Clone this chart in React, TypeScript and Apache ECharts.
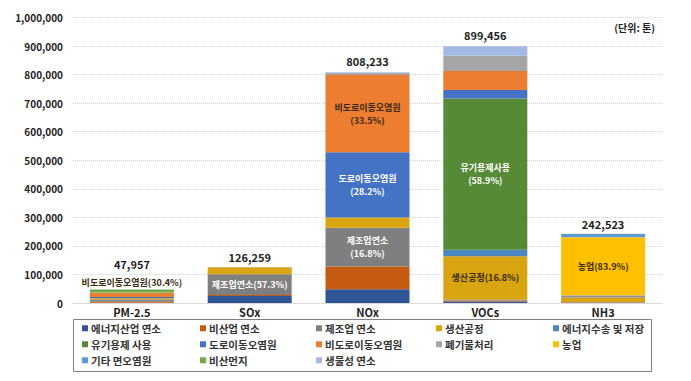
import React, { useEffect, useRef } from "react";
import * as echarts from "echarts";

const categories = ["PM-2.5", "SOx", "NOx", "VOCs", "NH3"];
const totals = [47957, 126259, 808233, 899456, 242523];

const sourceNames = [
  "에너지산업 연소",
  "비산업 연소",
  "제조업 연소",
  "생산공정",
  "에너지수송 및 저장",
  "유기용제 사용",
  "도로이동오염원",
  "비도로이동오염원",
  "폐기물처리",
  "농업",
  "기타 면오염원",
  "비산먼지",
  "생물성 연소",
];

const energyIndustry = [1200, 24500, 48000, 5000, 1000];
const nonIndustrial = [2800, 3800, 80000, 4000, 1800];
const manufacturing = [8200, 72346, 135783, 3500, 700];
const production = [4500, 23500, 35270, 151109, 17000];
const energyTransport = [0, 0, 1000, 23000, 0];
const solvent = [0, 0, 0, 529780, 0];
const roadMobile = [4400, 200, 227922, 30000, 3500];
const nonRoadMobile = [14580, 1100, 270758, 66000, 200];
const waste = [300, 500, 7500, 54000, 2800];
const agriculture = [0, 0, 0, 0, 203477];
const otherArea = [500, 0, 0, 0, 11500];
const fugitiveDust = [10500, 0, 0, 0, 0];
const biomass = [977, 313, 2000, 33067, 546];

const seriesValues = [
  energyIndustry, nonIndustrial, manufacturing, production, energyTransport,
  solvent, roadMobile, nonRoadMobile, waste, agriculture, otherArea, fugitiveDust, biomass,
];

const colors = [
  "#2F5597", "#C55A11", "#7F7F7F", "#D8A40F", "#4A86BF", "#568A36", "#4472C4",
  "#ED7D31", "#A5A5A5", "#FFC000", "#5B9BD5", "#70AD47", "#A3B8E2",
];

// inner labels: [seriesIndex, categoryIndex, text, dark?, position]
const innerLabels: [number, number, string, boolean, string][] = [
  [7, 0, "비도로이동오염원(30.4%)", true, "top"],
  [2, 1, "제조업연소(57.3%)", false, "inside"],
  [7, 2, "비도로이동오염원\n(33.5%)", true, "inside"],
  [6, 2, "도로이동오염원\n(28.2%)", false, "inside"],
  [2, 2, "제조업연소\n(16.8%)", false, "inside"],
  [5, 3, "유기용제사용\n(58.9%)", false, "inside"],
  [3, 3, "생산공정(16.8%)", true, "inside"],
  [9, 4, "농업(83.9%)", true, "inside"],
];

const totalDistances = [20, 4, 6, 6, 4];

const legendCols = [82, 200, 316, 436, 553];
const legendRows = [323, 339, 355];

const FONT = "'Noto Sans CJK KR', 'Noto Sans', sans-serif";

export default function App() {
  const ref = useRef<HTMLDivElement>(null);
  useEffect(() => {
    if (!ref.current) return;
    const chart = echarts.init(ref.current, null, { renderer: "svg" });
    const series: any[] = seriesValues.map((vals, si) => ({
      name: sourceNames[si],
      type: "bar",
      stack: "total",
      barWidth: 84,
      itemStyle: { color: colors[si] },
      data: vals.map((v, ci) => {
        const item: any = { value: v };
        const lab = innerLabels.find((l) => l[0] === si && l[1] === ci);
        if (lab) {
          item.label = {
            show: true,
            position: lab[4],
            distance: 4,
            formatter: lab[2],
            color: lab[3] ? "#3a2a10" : "#ffffff",
            fontSize: 9,
            fontWeight: "bold",
            fontFamily: FONT,
            lineHeight: 13,
          };
        }
        if (si === seriesValues.length - 1) {
          item.label = {
            show: true,
            position: "top",
            distance: totalDistances[ci],
            formatter: totals[ci].toLocaleString("en-US"),
            color: "#222",
            fontSize: 11,
            fontWeight: "bold",
            fontFamily: FONT,
          };
        }
        return item;
      }),
    }));

    const legends = sourceNames.map((name, i) => ({
      data: [name],
      left: legendCols[i % 5],
      top: legendRows[Math.floor(i / 5)],
      orient: "horizontal",
      icon: "rect",
      itemWidth: 6,
      itemHeight: 6,
      padding: 0,
      selectedMode: false,
      textStyle: { fontSize: 10.5, fontWeight: "bold", color: "#333", fontFamily: FONT, padding: [0, 0, 0, -2] },
    }));

    chart.setOption({
      animation: false,
      textStyle: { fontFamily: FONT },
      grid: { left: 73, right: 29, top: 17.5, bottom: 78, containLabel: false },
      xAxis: {
        type: "category",
        data: categories,
        axisLine: { lineStyle: { color: "#d9d9d9" } },
        axisTick: { show: false },
        axisLabel: { color: "#222", fontSize: 11, fontWeight: "bold", margin: 3, fontFamily: FONT },
      },
      yAxis: {
        type: "value",
        min: 0,
        max: 1000000,
        interval: 100000,
        axisLabel: {
          color: "#222",
          fontSize: 10,
          fontWeight: "bold",
          margin: 10,
          fontFamily: FONT,
          formatter: (v: number) => v.toLocaleString("en-US"),
        },
        splitLine: { lineStyle: { color: "#d4d4d4", type: "dotted" } },
      },
      legend: legends,
      graphic: [
        {
          type: "rect",
          shape: { x: 73.5, y: 319.5, width: 578, height: 52 },
          style: { fill: "none", stroke: "#7f7f7f", lineWidth: 1 },
          silent: true,
        },
        {
          type: "text",
          right: 36,
          top: 22,
          style: { text: "(단위: 톤)", fontSize: 10, fontWeight: "bold", fill: "#222", fontFamily: FONT },
        },
      ],
      series,
    });
    return () => chart.dispose();
  }, []);
  return <div ref={ref} style={{ width: 691, height: 381, position: "absolute", left: 0, top: 0 }} />;
}
